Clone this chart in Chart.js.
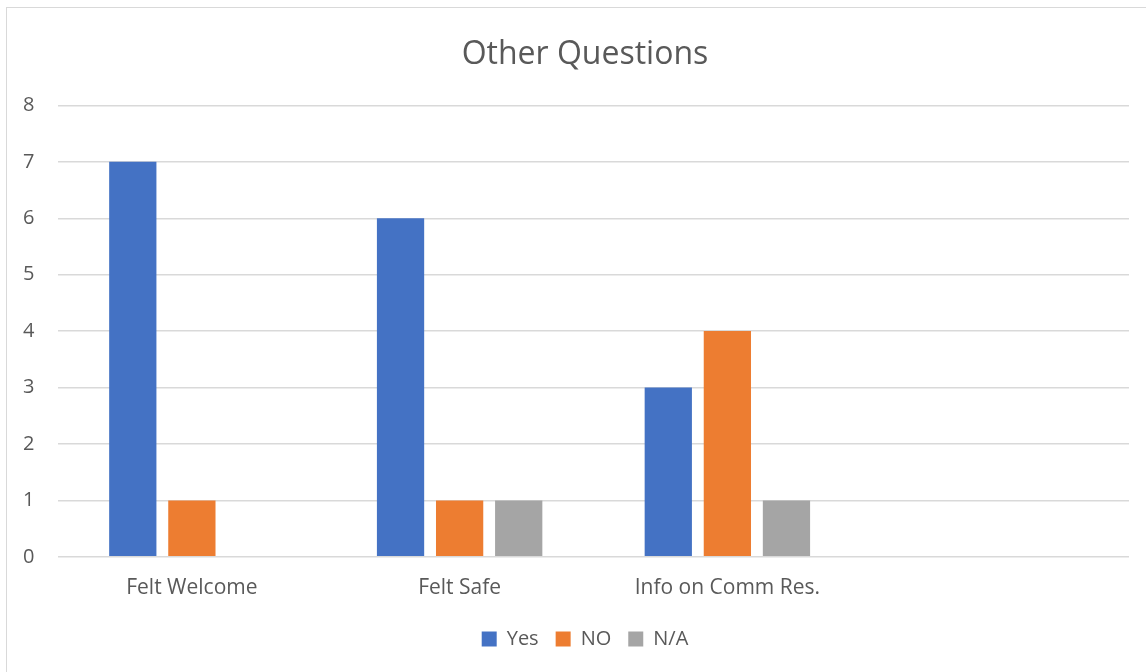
<!DOCTYPE html>
<html>
<head>
<meta charset="utf-8">
<script src="https://cdn.jsdelivr.net/npm/chart.js@4/dist/chart.umd.min.js"></script>
<style>
    body { margin: 0; background: #fff; }
    #wrap { position: relative; width: 1146px; height: 672px; overflow: hidden; }
    #frame { position: absolute; left: 6px; top: 7px; width: 1200px; height: 700px; border: 1px solid #d9d9d9; }
    #chart { position: absolute; left: 0; top: 0; }
</style>
</head>
<body>
<div id="wrap">
    <div id="frame"></div>
    <canvas id="chart" width="1146" height="672"></canvas>
</div>
<script>
var categorias = ['Felt Welcome', 'Felt Safe', 'Info on Comm Res.', ''];
var yes = [7, 6, 3, null];
var no = [1, 1, 4, null];
var na = [0, 1, 1, null];
var yTicks = [0, 1, 2, 3, 4, 5, 6, 7, 8];

var texto = '#595959';
var fuente = "'Open Sans', 'Liberation Sans', sans-serif";

const ctx = document.getElementById('chart').getContext('2d');
const myChart = new Chart(ctx, {
    type: 'bar',
    data: {
        labels: categorias,
        datasets: [{
            label: 'Yes',
            data: yes,
            backgroundColor: '#4472C4'
        },
        {
            label: 'NO',
            data: no,
            backgroundColor: '#ED7D31'
        },
        {
            label: 'N/A',
            data: na,
            backgroundColor: '#A5A5A5'
        }]
    },
    options: {
        responsive: false,
        animation: false,
        categoryPercentage: 0.662,
        barPercentage: 0.8,
        layout: {
            padding: { left: 41, right: 17, top: 36, bottom: 13 }
        },
        plugins: {
            title: {
                display: true,
                text: 'Other Questions',
                color: texto,
                font: { family: fuente, size: 32, weight: 'normal' },
                padding: { top: 0, bottom: 31 }
            },
            legend: {
                position: 'bottom',
                labels: {
                    color: texto,
                    font: { family: fuente, size: 20 },
                    boxWidth: 15,
                    boxHeight: 15,
                    padding: 17
                }
            },
            tooltip: { enabled: false }
        },
        scales: {
            x: {
                grid: { display: false },
                border: { display: false },
                ticks: {
                    color: texto,
                    font: { family: fuente, size: 21 },
                    padding: 11
                }
            },
            y: {
                min: 0,
                max: 8,
                afterBuildTicks: function (axis) {
                    axis.ticks = yTicks.map(function (v) { return { value: v }; });
                },
                // eje angosto; las etiquetas en modo mirror se corren hacia el margen izquierdo
                afterFit: function (axis) {
                    axis.width = 17;
                },
                grid: { color: '#d9d9d9', lineWidth: 1.5, drawTicks: false },
                border: { display: false },
                ticks: {
                    color: texto,
                    font: { family: fuente, size: 20 },
                    mirror: true,
                    crossAlign: 'far',
                    padding: -35
                }
            }
        }
    }
});
</script>
</body>
</html>
